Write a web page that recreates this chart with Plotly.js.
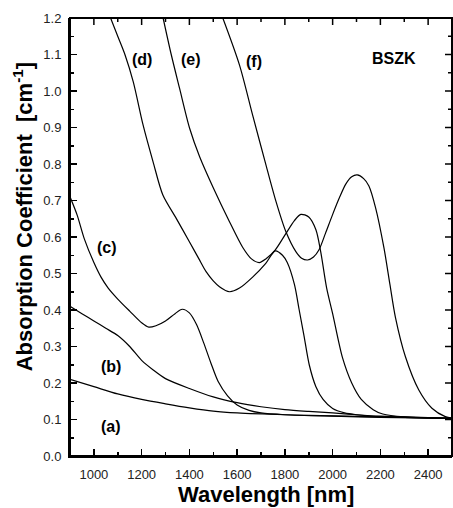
<!DOCTYPE html>
<html>
<head>
<meta charset="utf-8">
<script src="https://cdn.plot.ly/plotly-3.0.1.min.js"></script>
<style>html,body{margin:0;padding:0;background:#fff;}#chart{width:453px;height:508px;}</style>
</head>
<body>
<div id="chart"></div>
<script>
// Wavelength (nm) and absorption coefficient (cm^-1)
const aX = [900, 1000, 1100, 1200, 1300, 1400, 1500, 1600, 1800, 2000, 2200, 2500];
const aY = [0.21, 0.19, 0.17, 0.155, 0.143, 0.132, 0.123, 0.118, 0.113, 0.110, 0.107, 0.103];

const bX = [900, 950, 1000, 1050, 1100, 1150, 1200, 1250, 1300, 1400, 1500, 1600, 1700, 1800, 1900, 2000, 2100, 2200, 2300, 2500];
const bY = [0.41, 0.39, 0.37, 0.35, 0.33, 0.30, 0.262, 0.235, 0.212, 0.185, 0.162, 0.146, 0.135, 0.127, 0.122, 0.118, 0.113, 0.109, 0.107, 0.103];

const cX = [900, 930, 960, 1000, 1030, 1060, 1100, 1150, 1200, 1230, 1260, 1300, 1340, 1370, 1400, 1430, 1460, 1490, 1520, 1560, 1600, 1650, 1700, 1800, 2000, 2200, 2500];
const cY = [0.71, 0.66, 0.595, 0.53, 0.49, 0.46, 0.43, 0.397, 0.365, 0.353, 0.357, 0.37, 0.39, 0.402, 0.392, 0.36, 0.31, 0.255, 0.205, 0.165, 0.14, 0.125, 0.118, 0.113, 0.109, 0.106, 0.103];

const dX = [1070, 1100, 1130, 1165, 1206, 1248, 1289, 1345, 1400, 1440, 1470, 1500, 1526, 1568, 1610, 1665, 1720, 1760, 1790, 1810, 1840, 1860, 1880, 1902, 1930, 1960, 2000, 2050, 2100, 2200, 2300, 2500];
const dY = [1.20, 1.15, 1.10, 1.025, 0.907, 0.806, 0.715, 0.651, 0.587, 0.54, 0.505, 0.48, 0.464, 0.45, 0.46, 0.49, 0.528, 0.562, 0.55, 0.53, 0.47, 0.40, 0.33, 0.25, 0.19, 0.155, 0.13, 0.118, 0.113, 0.108, 0.106, 0.103];

const eX = [1290, 1324, 1359, 1401, 1443, 1500, 1568, 1623, 1660, 1693, 1720, 1760, 1800, 1840, 1867, 1900, 1930, 1950, 1975, 2000, 2041, 2080, 2120, 2170, 2210, 2300, 2500];
const eY = [1.20, 1.10, 1.007, 0.898, 0.82, 0.735, 0.642, 0.572, 0.54, 0.53, 0.54, 0.565, 0.605, 0.645, 0.662, 0.655, 0.62, 0.56, 0.46, 0.39, 0.27, 0.20, 0.155, 0.127, 0.115, 0.107, 0.103];

const fX = [1540, 1610, 1665, 1721, 1763, 1804, 1846, 1870, 1895, 1920, 1943, 1970, 1999, 2030, 2055, 2080, 2103, 2130, 2152, 2180, 2215, 2240, 2263, 2305, 2361, 2416, 2472, 2500];
const fY = [1.20, 1.071, 0.934, 0.797, 0.697, 0.615, 0.56, 0.542, 0.537, 0.545, 0.565, 0.61, 0.66, 0.71, 0.745, 0.765, 0.77, 0.76, 0.74, 0.68, 0.57, 0.47, 0.38, 0.272, 0.181, 0.131, 0.108, 0.104];

const seriesLabels = ["(a)", "(b)", "(c)", "(d)", "(e)", "(f)"];
const sampleLabel = "BSZK";
const xTitle = "Wavelength [nm]";
const yTitle = "Absorption Coefficient&nbsp; [cm<sup>-1</sup>]";
const xTicks = [1000, 1200, 1400, 1600, 1800, 2000, 2200, 2400];
const xMinorTicks = [900, 1100, 1300, 1500, 1700, 1900, 2100, 2300, 2500];
const yTicks = [0, 0.1, 0.2, 0.3, 0.4, 0.5, 0.6, 0.7, 0.8, 0.9, 1.0, 1.1, 1.2];
const yMinorTicks = [0.05, 0.15, 0.25, 0.35, 0.45, 0.55, 0.65, 0.75, 0.85, 0.95, 1.05, 1.15];

const FONT = "Liberation Sans, Arial, sans-serif";
const series = [[aX, aY], [bX, bY], [cX, cY], [dX, dY], [eX, eY], [fX, fY]];
const traces = series.map((s, i) => ({
  x: s[0], y: s[1], type: "scatter", mode: "lines", name: seriesLabels[i],
  line: {color: "#000", width: 1.2, shape: "spline", smoothing: 0.8},
  hoverinfo: "skip"
}));

// label positions (data coordinates)
const labelPos = [[1073, 0.082], [1073, 0.244], [1056, 0.570], [1200, 1.085], [1405, 1.085], [1672, 1.080], [2256, 1.090]];
const labelTexts = seriesLabels.concat([sampleLabel]);
const annotations = labelTexts.map((t, i) => ({
  x: labelPos[i][0], y: labelPos[i][1], xref: "x", yref: "y",
  text: "<b>" + t + "</b>", showarrow: false,
  font: {family: FONT, size: 16, color: "#000"}
}));
annotations.push({
  x: 0.514, y: -0.087, xref: "paper", yref: "paper", xanchor: "center", yanchor: "middle",
  text: "<b>" + xTitle + "</b>", showarrow: false, font: {family: FONT, size: 22, color: "#000"}
});
annotations.push({
  x: -0.123, y: 0.545, xref: "paper", yref: "paper", xanchor: "center", yanchor: "middle",
  text: "<b>" + yTitle + "</b>", showarrow: false, textangle: -90,
  font: {family: FONT, size: 22, color: "#000"}
});

// frame on top/right (mirrored axis line and inward ticks), placed on the axis scales
const shapes = [{type: "rect", xref: "paper", yref: "paper", x0: 0, x1: 1, y0: 0, y1: 1,
  line: {color: "#000", width: 2}, layer: "above"}];
const PX = 1 / 438, PXX = 1 / 382;
xTicks.forEach(v => shapes.push({type: "line", xref: "x", yref: "paper", x0: v, x1: v, y0: 1, y1: 1 - 7 * PX, line: {color: "#000", width: 1.5}}));
xMinorTicks.forEach(v => shapes.push({type: "line", xref: "x", yref: "paper", x0: v, x1: v, y0: 1, y1: 1 - 4 * PX, line: {color: "#000", width: 1.5}}));
yTicks.forEach(v => shapes.push({type: "line", xref: "paper", yref: "y", y0: v, y1: v, x0: 1, x1: 1 - 7 * PXX, line: {color: "#000", width: 1.5}}));
yMinorTicks.forEach(v => shapes.push({type: "line", xref: "paper", yref: "y", y0: v, y1: v, x0: 1, x1: 1 - 4 * PXX, line: {color: "#000", width: 1.5}}));

const axisCommon = {
  showgrid: false, zeroline: false, showline: true, linecolor: "#000", linewidth: 2,
  ticks: "inside", ticklen: 7, tickwidth: 1.5, tickcolor: "#000",
  tickfont: {family: FONT, size: 13, color: "#222"}
};

const layout = {
  width: 453, height: 508,
  margin: {l: 70, r: 1, t: 18, b: 52},
  paper_bgcolor: "#fff", plot_bgcolor: "#fff",
  showlegend: false,
  xaxis: Object.assign({}, axisCommon, {
    range: [900, 2500], tickvals: xTicks, ticklabelstandoff: 5,
    minor: {tickvals: xMinorTicks, ticks: "inside", ticklen: 4, tickwidth: 1.5, tickcolor: "#000"}
  }),
  yaxis: Object.assign({}, axisCommon, {
    range: [0, 1.2], tickvals: yTicks, tickformat: ".1f", ticklabelstandoff: 4,
    minor: {tickvals: yMinorTicks, ticks: "inside", ticklen: 4, tickwidth: 1.5, tickcolor: "#000"}
  }),
  shapes: shapes,
  annotations: annotations
};

Plotly.newPlot("chart", traces, layout, {staticPlot: true, displayModeBar: false});
</script>
</body>
</html>
